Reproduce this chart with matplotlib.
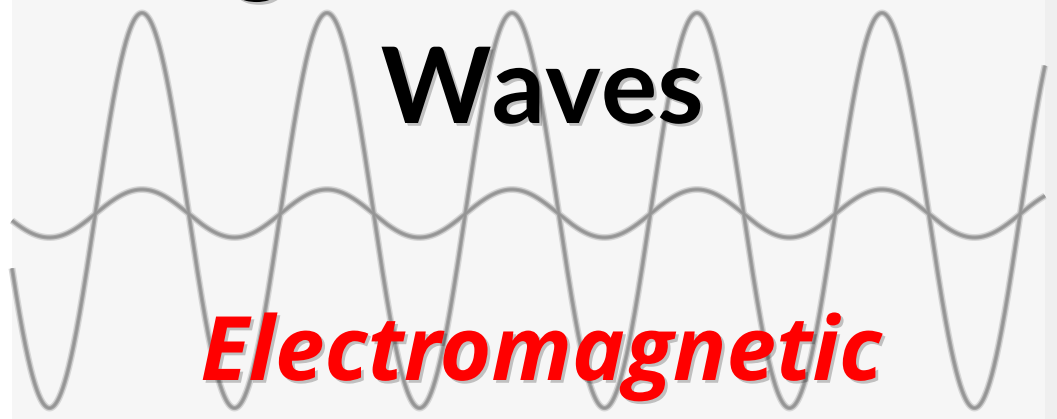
import numpy as np
import matplotlib
matplotlib.use("Agg")
import matplotlib.pyplot as plt
import matplotlib.patheffects as pe

# ---- picture parameters (pixels) ----
W, H = 1057, 419
bg_color = "#f6f6f6"
left_strip = 12
right_strip_start = 1045

wave_period = 185.0
wave_peak_x = 142.0
big_center, big_amp = 210.5, 197.5
small_center, small_amp = 213.5, 24.0

title_word = "Waves"
subtitle_word = "Electromagnetic"
top_fragment = "g"

fig = plt.figure(figsize=(W / 100, H / 100), dpi=100)
fig.patch.set_facecolor("white")
ax = fig.add_axes([0, 0, 1, 1])
ax.set_xlim(0, W)
ax.set_ylim(H, 0)
ax.axis("off")

ax.axvspan(left_strip, right_strip_start, color=bg_color, zorder=0, lw=0)
ax.axvspan(right_strip_start, W, color="#efefef", zorder=0, lw=0)

x = np.linspace(left_strip, right_strip_start, 3000)
phase = 2 * np.pi * (x - wave_peak_x) / wave_period
y_big = big_center - big_amp * np.cos(phase)
y_small = small_center - small_amp * np.cos(phase)

for yy in (y_big, y_small):
    ax.plot(x, yy, color="#d6d6d6", lw=5.0, solid_capstyle="butt", zorder=1)
    ax.plot(x, yy, color="#a6a6a6", lw=3.0, solid_capstyle="butt", zorder=2)
    ax.plot(x, yy, color="#949494", lw=1.4, solid_capstyle="butt", zorder=3)

shadow = [pe.SimplePatchShadow(offset=(2, -2), shadow_rgbFace="#000000", alpha=0.22), pe.Normal()]

ax.text(542, 123, title_word, fontsize=76, fontweight="bold", family="Lato",
        color="black", ha="center", va="baseline", zorder=5, path_effects=shadow)
ax.text(258, 2, top_fragment, fontsize=76, fontweight="bold", family="Lato",
        color="black", ha="center", va="bottom", zorder=5, path_effects=shadow)
ax.text(541, 380, subtitle_word, fontsize=64, fontweight="bold", style="italic",
        family="Open Sans", color="#ff0000", ha="center", va="baseline", zorder=5,
        path_effects=shadow)

fig.savefig("out.png", dpi=100, facecolor=fig.get_facecolor())
